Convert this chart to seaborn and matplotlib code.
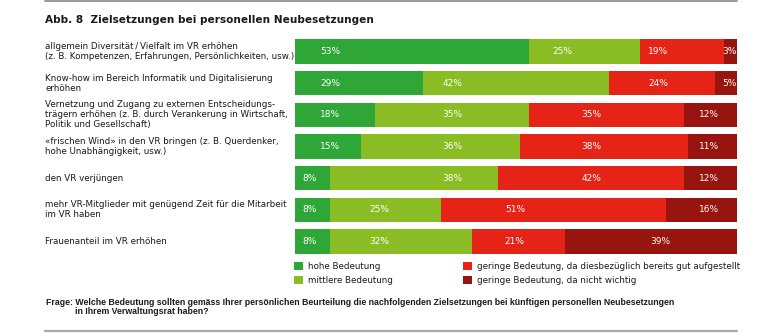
import matplotlib
matplotlib.use("Agg")
import matplotlib.pyplot as plt
import matplotlib.transforms as mtransforms
from matplotlib.lines import Line2D
from matplotlib.patches import Patch
import seaborn as sns
import pandas as pd

# ---------------- data ----------------
categories = [
    "allgemein Diversität\u2009/\u2009Vielfalt im VR erhöhen\n(z. B. Kompetenzen, Erfahrungen, Persönlichkeiten, usw.)",
    "Know-how im Bereich Informatik und Digitalisierung\nerhöhen",
    "Vernetzung und Zugang zu externen Entscheidungs-\nträgern erhöhen (z. B. durch Verankerung in Wirtschaft,\nPolitik und Gesellschaft)",
    "«frischen Wind» in den VR bringen (z. B. Querdenker,\nhohe Unabhängigkeit, usw.)",
    "den VR verjüngen",
    "mehr VR-Mitglieder mit genügend Zeit für die Mitarbeit\nim VR haben",
    "Frauenanteil im VR erhöhen",
]
hohe = [53, 29, 18, 15, 8, 8, 8]
mittlere = [25, 42, 35, 36, 38, 25, 32]
gering_gut = [19, 24, 35, 38, 42, 51, 21]
gering_unwichtig = [3, 5, 12, 11, 12, 16, 39]

series_names = [
    "hohe Bedeutung",
    "mittlere Bedeutung",
    "geringe Bedeutung, da diesbezüglich bereits gut aufgestellt",
    "geringe Bedeutung, da nicht wichtig",
]
title = "Abb. 8  Zielsetzungen bei personellen Neubesetzungen"
footer1 = "Frage: Welche Bedeutung sollten gemäss Ihrer persönlichen Beurteilung die nachfolgenden Zielsetzungen bei künftigen personellen Neubesetzungen"
footer2 = "in Ihrem Verwaltungsrat haben?"

# ---------------- layout / style ----------------
colors = ["#2ea638", "#8abd24", "#e52317", "#98140f"]
# horizontal position of the value labels (in percent of the bar), as placed in the original
label_pos = [
    [7.9, 7.9, 7.9, 7.9, 3.2, 3.2, 3.2],
    [60.5, 35.6, 35.7, 35.7, 35.7, 19.0, 19.0],
    [82.1, 82.1, 67.0, 67.0, 67.0, 49.8, 49.6],
    [98.3, 98.3, 93.7, 93.7, 93.7, 93.7, 82.6],
]

W, H = 782, 336
sns.set_theme(style="white")
plt.rcParams["font.family"] = ["DejaVu Sans"]

fig = plt.figure(figsize=(W / 100, H / 100), dpi=100)
fig.patch.set_facecolor("white")

def px(x, y):
    return x / W, 1 - y / H

row_gap = (241.5 - 51.5) / 6
ax_top = 51.5 - row_gap / 2
ax_bot = 241.5 + row_gap / 2
ax = fig.add_axes([295 / W, 1 - ax_bot / H, 442 / W, (ax_bot - ax_top) / H])

series = [hohe, mittlere, gering_gut, gering_unwichtig]
cum = [0] * len(categories)
cums = []
for s in series:
    cum = [c + v for c, v in zip(cum, s)]
    cums.append(cum)

# draw from the total backwards so each layer overlays the next
for i in reversed(range(4)):
    d = pd.DataFrame({"cat": categories, "val": cums[i]})
    sns.barplot(data=d, x="val", y="cat", orient="h", color=colors[i],
                saturation=1, width=0.77, ax=ax, label=series_names[i],
                edgecolor="none", linewidth=0)

ax.set_xlim(0, 100)
ax.set_ylim(len(categories) - 0.5, -0.5)
ax.axis("off")
if ax.legend_:
    ax.legend_.remove()

# value labels
for i, s in enumerate(series):
    for r, v in enumerate(s):
        ax.text(label_pos[i][r], r, f"{v}%", ha="center", va="center",
                color="white", fontsize=6.5)

# category labels
blend = mtransforms.blended_transform_factory(fig.transFigure, ax.transData)
for r, c in enumerate(categories):
    ax.text(45 / W, r, c, transform=blend, ha="left", va="center",
            fontsize=6.35, color="#1a1a1a", linespacing=1.12)

# title
fig.text(*px(45, 20), title, ha="left", va="center", fontsize=7.6,
         fontweight="bold", color="#1a1a1a")

# legends
handles = [Patch(facecolor=c, edgecolor="none") for c in colors]
leg_kw = dict(frameon=False, loc="upper left", fontsize=6.3, handlelength=1.0,
              handleheight=1.0, handletextpad=0.55, labelspacing=0.58,
              borderpad=0, borderaxespad=0, labelcolor="#1a1a1a")
fig.legend(handles[:2], series_names[:2], bbox_to_anchor=px(294, 262), **leg_kw)
fig.legend(handles[2:], series_names[2:], bbox_to_anchor=px(463, 262), **leg_kw)

# footer
ffam = ["Liberation Sans", "DejaVu Sans"]
fig.text(*px(46, 302.5), footer1, ha="left", va="center", fontsize=6.3,
         fontweight="bold", family=ffam, color="#1a1a1a")
fig.text(*px(75, 312), footer2, ha="left", va="center", fontsize=6.3,
         fontweight="bold", family=ffam, color="#1a1a1a")

# rules
fig.add_artist(Line2D([45 / W, 737 / W], [1 - 0.8 / H] * 2, color="#9a9a9a", lw=1.4))
fig.add_artist(Line2D([45 / W, 737 / W], [1 - 331.3 / H] * 2, color="#a8a8a8", lw=1.6))

fig.savefig("out.png", dpi=100, facecolor="white")
